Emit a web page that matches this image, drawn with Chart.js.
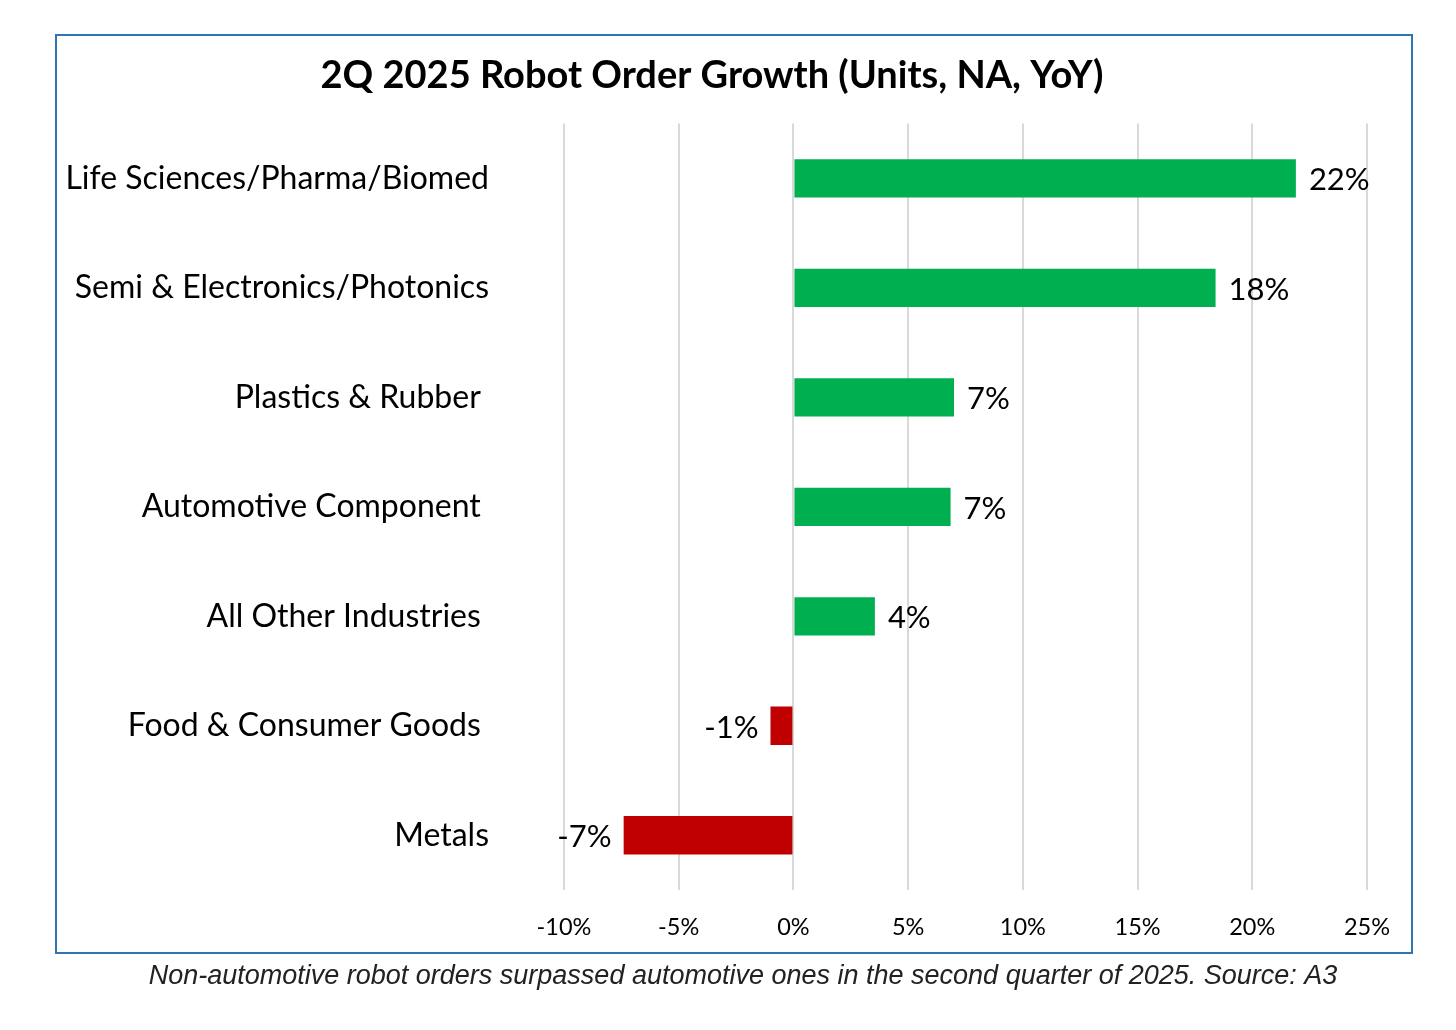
<!DOCTYPE html>
<html>
<head>
<meta charset="utf-8">
<script src="https://cdn.jsdelivr.net/npm/chart.js@4/dist/chart.umd.min.js"></script>
<style>
  html, body { margin: 0; padding: 0; background: #fff; }
  #wrap { position: relative; width: 1456px; height: 1030px; }
  canvas { position: absolute; left: 0; top: 0; }
</style>
</head>
<body>
<div id="wrap"><canvas id="c" width="1456" height="1030"></canvas></div>
<script>
const categories = [
  "Life Sciences/Pharma/Biomed",
  "Semi & Electronics/Photonics",
  "Plastics & Rubber ",
  "Automotive Component ",
  "All Other Industries ",
  "Food & Consumer Goods ",
  "Metals"
];
const growthValues = [21.9, 18.4, 7.0, 6.85, 3.55, -1.0, -7.4];
const xTickValues = [-10, -5, 0, 5, 10, 15, 20, 25];
const titleText = "2Q 2025 Robot Order Growth (Units, NA, YoY)";
const captionText = "Non-automotive robot orders surpassed automotive ones in the second quarter of 2025. Source: A3";

const GREEN = "#00B050";
const RED = "#C00000";
const FONT = "Lato, 'Open Sans', sans-serif";

const frameAndLabels = {
  id: "frameAndLabels",
  afterDraw(chart) {
    const ctx = chart.ctx;
    ctx.save();
    // frame
    ctx.strokeStyle = "#2E75B6";
    ctx.lineWidth = 2;
    ctx.strokeRect(56, 35, 1356, 918);
    // value labels
    ctx.font = "31px " + FONT;
    ctx.fillStyle = "#000";
    ctx.textBaseline = "middle";
    const meta = chart.getDatasetMeta(0);
    meta.data.forEach((bar, i) => {
      const v = growthValues[i];
      const txt = Math.round(v) + "%";
      if (v >= 0) {
        ctx.textAlign = "left";
        ctx.fillText(txt, bar.x + 13, bar.y + 2);
      } else {
        ctx.textAlign = "right";
        ctx.fillText(txt, bar.x - 12, bar.y + 2);
      }
    });
    // caption
    ctx.font = "italic 27px 'Liberation Sans', Arial, sans-serif";
    ctx.fillStyle = "#222";
    ctx.textAlign = "center";
    ctx.fillText(captionText, 743, 976);
    ctx.restore();
  }
};

new Chart(document.getElementById("c"), {
  type: "bar",
  data: {
    labels: categories,
    datasets: [{
      data: growthValues,
      backgroundColor: growthValues.map(v => v >= 0 ? GREEN : RED),
      borderWidth: 0,
      barPercentage: 0.35,
      categoryPercentage: 1.0
    }]
  },
  plugins: [frameAndLabels],
  options: {
    indexAxis: "y",
    responsive: false,
    animation: false,
    devicePixelRatio: 1,
    layout: { padding: { left: 57, right: 89, top: 0, bottom: 80 } },
    plugins: {
      legend: { display: false },
      tooltip: { enabled: false },
      title: {
        display: true,
        text: titleText,
        color: "#000",
        font: { family: FONT, size: 38, weight: "bold" },
        padding: { top: 53, bottom: 25 }
      }
    },
    scales: {
      x: {
        min: -10,
        max: 25,
        afterBuildTicks(scale) { scale.ticks = xTickValues.map(v => ({ value: v })); },
        afterFit(scale) { scale.height = 60; },
        grid: { color: "#D9D9D9", lineWidth: 2, drawTicks: false },
        border: { display: false },
        ticks: {
          padding: 23,
          color: "#000",
          font: { family: FONT, size: 23.5 },
          callback: v => v + "%"
        }
      },
      y: {
        afterFit(scale) { scale.width = 507; },
        grid: { display: false, drawTicks: false },
        border: { display: false },
        ticks: {
          padding: 75,
          color: "#000",
          font: { family: FONT, size: 32 }
        }
      }
    }
  }
});
</script>
</body>
</html>
